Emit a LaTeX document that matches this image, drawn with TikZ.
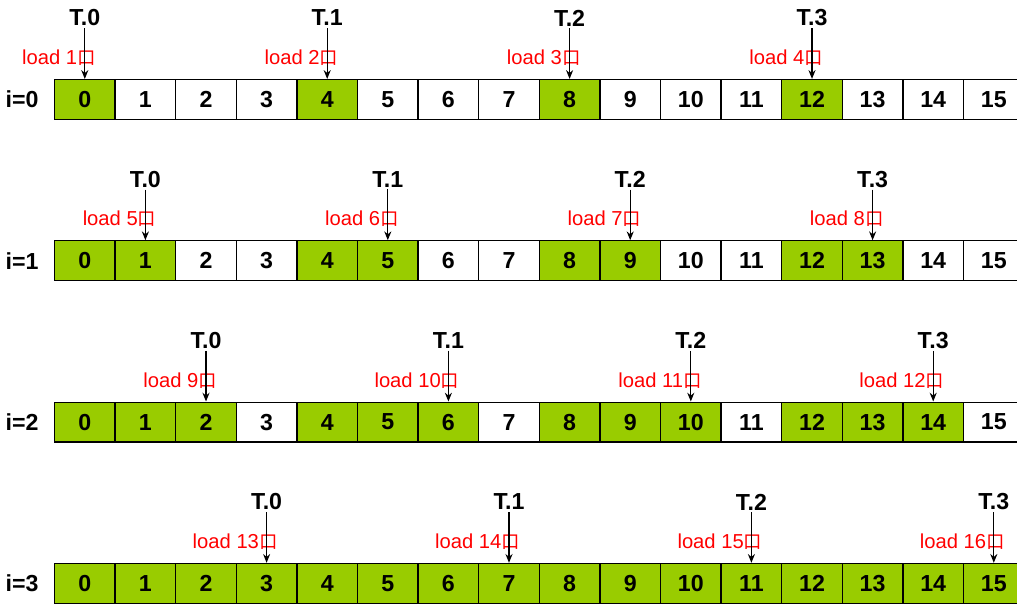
\documentclass[tikz,border=0pt]{standalone}
\usepackage{fontspec}
\setmainfont{Liberation Sans}
\newfontfamily\cjkfont{Noto Sans CJK SC}
\usetikzlibrary{arrows.meta}
\definecolor{cellgreen}{HTML}{99CC00}
\tikzset{
  cell/.style={draw, line width=0.7pt, minimum width=1.212cm, minimum height=0.8cm,
    inner sep=0pt, font=\bfseries\fontsize{13.2}{15}\selectfont},
  hot/.style={cell, fill=cellgreen},
  tlabel/.style={font=\bfseries\fontsize{13.2}{15}\selectfont, inner sep=1pt},
  loadlabel/.style={text=red, font=\fontsize{11.5}{13}\selectfont, inner sep=0pt, anchor=base east},
  thread/.style={-{Stealth[length=5pt,width=4pt]}, line width=0.7pt}
}

\begin{document}
\begin{tikzpicture}[x=0.02cm,y=-0.02cm]
  \clip (0,0) rectangle (1017,603);
  \useasboundingbox (0,0) rectangle (1017,603);
  % rows of cells, green where loaded
  \foreach \i in {0,...,3} {
    \node[tlabel] (row\i) at (22,99.5+161.3*\i) {i=\i};
    \foreach \j in {0,...,15} {
      \pgfmathtruncatemacro\k{mod(\j,4)}
      \ifnum\k>\i
        \node[cell] (c\i-\j) at (84.8+60.6*\j,99.5+161.3*\i) {\j};
      \else
        \node[hot] (c\i-\j) at (84.8+60.6*\j,99.5+161.3*\i) {\j};
      \fi
    }
  }
  % threads and loads
  \foreach \i in {0,...,3}
    \foreach \t in {0,...,3} {
      \pgfmathtruncatemacro\j{4*\t+\i}
      \pgfmathtruncatemacro\n{4*\i+\t+1}
      \node[tlabel] (t\i-\t) at (84.8+60.6*\j,18+161.3*\i) {T.\t};
      \node[loadlabel] (l\i-\t) at (96+60.6*\j,64.5+161.3*\i) {load \n{\cjkfont\fontsize{10.5}{12}\selectfont 口}};
      \draw[thread] (t\i-\t) -- (c\i-\j.north);
    }
\end{tikzpicture}
\end{document}
